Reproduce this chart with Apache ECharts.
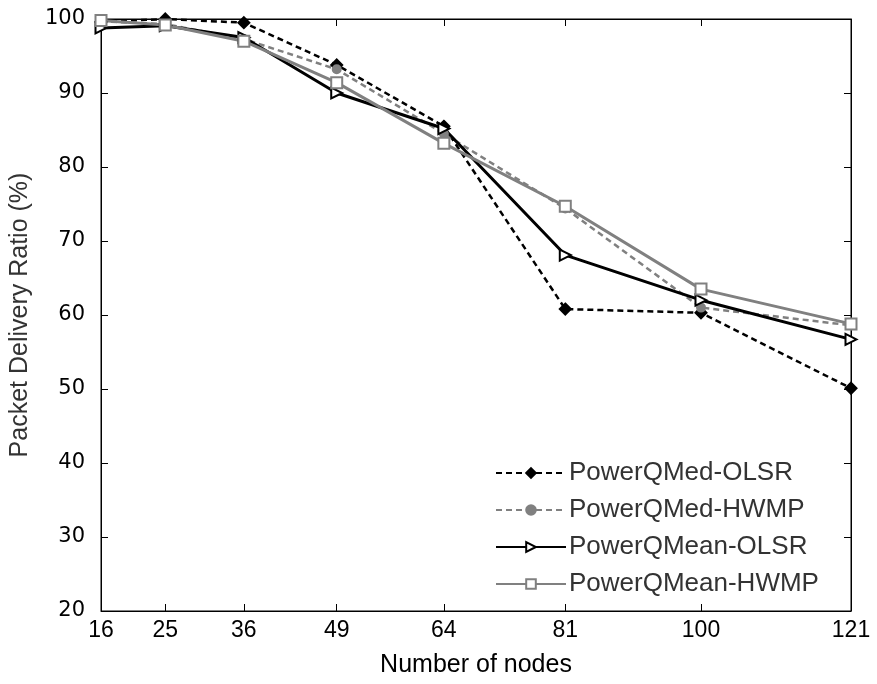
<!DOCTYPE html>
<html><head><meta charset="utf-8">
<script src="https://cdn.jsdelivr.net/npm/echarts@6/dist/echarts.min.js"></script>
<style>html,body{margin:0;padding:0;background:#fff}#c{width:877px;height:684px}</style>
</head><body><div id="c"></div>
<script>
const nodes = [16, 25, 36, 49, 64, 81, 100, 121];
const yTicks = [20, 30, 40, 50, 60, 70, 80, 90, 100];
const medOlsr  = [99.6, 100.0, 99.5, 93.8, 85.5, 60.8, 60.3, 50.1];
const medHwmp  = [99.7, 99.3, 97.3, 93.2, 84.5, 74.4, 61.0, 58.6];
const meanOlsr = [98.8, 99.1, 97.5, 90.0, 85.2, 68.1, 62.0, 56.7];
const meanHwmp = [99.8, 99.2, 97.0, 91.4, 83.2, 74.7, 63.5, 58.8];
const names = ['PowerQMed-OLSR', 'PowerQMed-HWMP', 'PowerQMean-OLSR', 'PowerQMean-HWMP'];

const pair = arr => nodes.map((n, i) => [n, arr[i]]);
const chart = echarts.init(document.getElementById('c'));
const sans = 'Liberation Sans, Arial, sans-serif';
const mk = (name, data, color, type, width, symbol, size, fill, rot) => ({
  name, type: 'line', data: pair(data), xAxisIndex: 0, yAxisIndex: 0,
  lineStyle: { color, type, width },
  itemStyle: { color: fill, borderColor: color, borderWidth: 2 },
  symbol, symbolSize: size, symbolRotate: rot || 0, showAllSymbol: true,
  animation: false, z: 3
});
chart.setOption({
  animation: false,
  grid: { left: 100, right: 26, top: 19, bottom: 73, show: true, borderColor: '#000', borderWidth: 1 },
  legend: {
    left: 490, top: 455, orient: 'vertical', itemWidth: 70, itemHeight: 12, itemGap: 11,
    textStyle: { fontFamily: sans, fontSize: 26, color: '#333', padding: [0, 0, 0, -2] },
    data: names
  },
  xAxis: [{
    type: 'value', min: 16, max: 121,
    name: 'Number of nodes', nameLocation: 'middle', nameGap: 42,
    nameTextStyle: { fontFamily: sans, fontSize: 25, color: '#000' },
    axisLine: { show: true, lineStyle: { color: '#000' } },
    axisTick: { show: true, inside: true, length: 7, customValues: nodes, lineStyle: { color: '#000' } },
    axisLabel: { customValues: nodes, fontFamily: sans, fontSize: 23, color: '#000', margin: 8 },
    splitLine: { show: false }
  }, {
    type: 'value', min: 16, max: 121, position: 'top',
    axisLine: { show: true, lineStyle: { color: '#000' } },
    axisTick: { show: true, inside: true, length: 7, customValues: nodes, lineStyle: { color: '#000' } },
    axisLabel: { show: false }, splitLine: { show: false }
  }],
  yAxis: [{
    type: 'value', min: 20, max: 100, interval: 10,
    name: 'Packet Delivery Ratio (%)', nameLocation: 'middle', nameGap: 68, nameRotate: 90,
    nameTextStyle: { fontFamily: sans, fontSize: 25, color: '#333' },
    axisLine: { show: true, lineStyle: { color: '#000' } },
    axisTick: { show: true, inside: true, length: 7, lineStyle: { color: '#000' } },
    axisLabel: { fontFamily: 'DejaVu Sans, sans-serif', fontSize: 21, color: '#000', margin: 16 },
    splitLine: { show: false }
  }, {
    type: 'value', min: 20, max: 100, interval: 10, position: 'right',
    axisLine: { show: true, lineStyle: { color: '#000' } },
    axisTick: { show: true, inside: true, length: 7, lineStyle: { color: '#000' } },
    axisLabel: { show: false }, splitLine: { show: false }
  }],
  series: [
    mk(names[0], medOlsr, '#000000', [6, 4], 2.5, 'diamond', 11, '#000000'),
    mk(names[1], medHwmp, '#808080', [6, 4], 2.5, 'circle', 8, '#808080'),
    mk(names[2], meanOlsr, '#000000', 'solid', 3, 'triangle', 11, '#ffffff', -90),
    mk(names[3], meanHwmp, '#808080', 'solid', 3, 'rect', 11, '#ffffff')
  ]
});
</script></body></html>
